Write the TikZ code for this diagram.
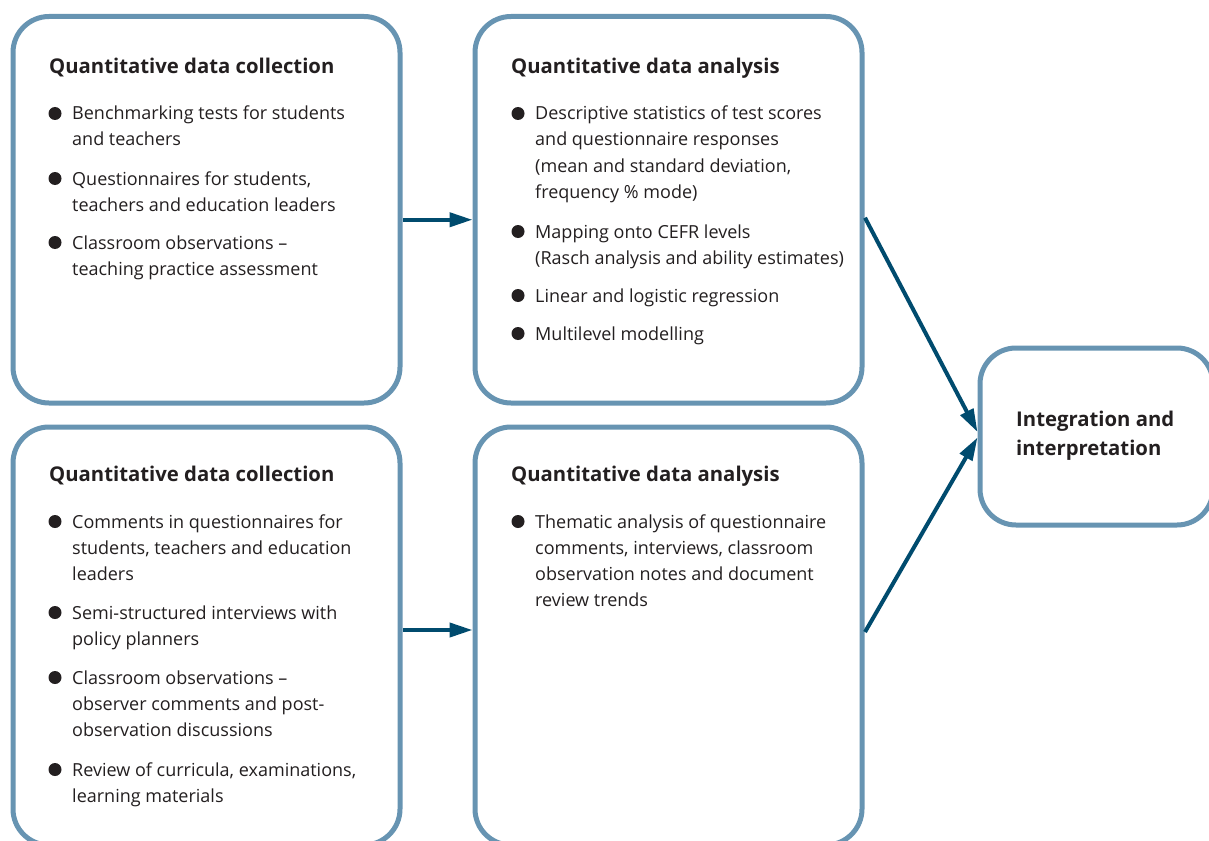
\documentclass[tikz,border=0pt]{standalone}
\usepackage{fontspec}
\setmainfont{Open Sans}
\usetikzlibrary{arrows.meta}
\definecolor{boxblue}{HTML}{6794B2}
\definecolor{arrowblue}{HTML}{004B6E}
\definecolor{txt}{HTML}{231F20}
\newcommand\bitem[4]{%
  \node[dot] (#1d) at (#2-17,#3-6.5) {};
  \node[body] (#1) at (#2,#3) {\begin{tabular}[t]{@{}l@{}}#4\end{tabular}};}
\begin{document}
\begin{tikzpicture}[x=1pt,y=-1pt,
  panel/.style={draw=boxblue, line width=5pt, rounded corners=36pt, rectangle, inner sep=0pt, outer sep=0pt, fill=white},
  title/.style={anchor=base west, inner sep=0pt, font=\fontsize{20.3}{29}\selectfont\bfseries, text=txt},
  body/.style={anchor=base west, inner sep=0pt, font=\fontsize{18}{26}\selectfont, text=txt},
  dot/.style={circle, fill=txt, minimum size=13pt, inner sep=0pt},
  flow/.style={draw=arrowblue, line width=4pt, -{Triangle[length=23pt,width=14pt]}}
]
\useasboundingbox (0,0) rectangle (1209,840);
% panels
\node[panel, minimum width=387pt, minimum height=386.5pt, anchor=north west] (p1) at (13,16.5) {};
\node[panel, minimum width=387pt, minimum height=386.5pt, anchor=north west] (p2) at (475,16.5) {};
\node[panel, minimum width=387pt, minimum height=418pt, anchor=north west] (p3) at (13,427) {};
\node[panel, minimum width=387pt, minimum height=418pt, anchor=north west] (p4) at (475,427) {};
\node[panel, minimum width=233pt, minimum height=177pt, anchor=north west] (p5) at (980,348) {};
% box 1
\node[title] (t1) at (49,74) {Quantitative data collection};
\bitem{a1}{72}{120}{Benchmarking tests for students\\and teachers}
\bitem{a2}{72}{185}{Questionnaires for students,\\teachers and education leaders}
\bitem{a3}{72}{249}{Classroom observations –\\teaching practice assessment}
% box 2
\node[title] (t2) at (511,74) {Quantitative data analysis};
\bitem{b1}{535}{120}{Descriptive statistics of test scores\\and questionnaire responses\\(mean and standard deviation,\\frequency \% mode)}
\bitem{b2}{535}{238}{Mapping onto CEFR levels\\(Rasch analysis and ability estimates)}
\bitem{b3}{535}{302}{Linear and logistic regression}
\bitem{b4}{535}{340}{Multilevel modelling}
% box 3
\node[title] (t3) at (49,481) {Quantitative data collection};
\bitem{c1}{72}{528}{Comments in questionnaires for\\students, teachers and education\\leaders}
\bitem{c2}{72}{619}{Semi-structured interviews with\\policy planners}
\bitem{c3}{72}{684}{Classroom observations –\\observer comments and post-\\observation discussions}
\bitem{c4}{72}{776}{Review of curricula, examinations,\\learning materials}
% box 4
\node[title] (t4) at (511,481) {Quantitative data analysis};
\bitem{d1}{535}{528}{Thematic analysis of questionnaire\\comments, interviews, classroom\\observation notes and document\\review trends}
% box 5
\node[title] (t5) at (1016,426) {\begin{tabular}[t]{@{}l@{}}Integration and\\[0pt]interpretation\end{tabular}};
% arrows
\draw[flow] ([xshift=3pt,yshift=-10pt]p1.east) -- ([xshift=-2.5pt,yshift=-10pt]p2.west);
\draw[flow] ([xshift=3pt,yshift=6pt]p3.east) -- ([xshift=-2.5pt,yshift=6pt]p4.west);
\draw[flow] ([xshift=3pt,yshift=-8pt]p2.east) -- ([xshift=-2.5pt,yshift=4.5pt]p5.west);
\draw[flow] ([xshift=3pt,yshift=4pt]p4.east) -- ([xshift=-2.5pt,yshift=-1pt]p5.west);
\end{tikzpicture}
\end{document}
